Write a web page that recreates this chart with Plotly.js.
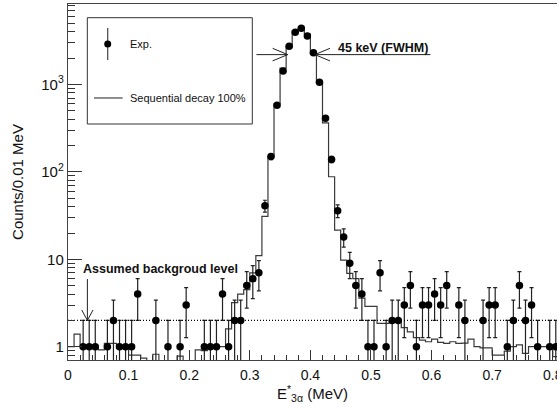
<!DOCTYPE html>
<html><head><meta charset="utf-8">
<script src="https://cdn.plot.ly/plotly-3.0.1.min.js"></script>
<style>html,body{margin:0;padding:0;background:#fff;overflow:hidden}</style>
</head><body><div id="chart" style="width:557px;height:407px"></div>
<script>
// Experimental counts per 0.01 MeV bin (bin centres, MeV)
const dataE = [0.025,0.035,0.045,0.065,0.075,0.085,0.095,0.105,0.115,
  0.145,0.165,0.185,0.195,
  0.225,0.235,0.245,0.255,0.265,0.275,0.285,0.295,0.305,0.315,
  0.325,0.335,0.345,0.355,0.365,0.375,0.385,0.395,0.405,0.415,0.425,0.435,0.445,0.455,0.465,0.475,0.485,
  0.495,0.505,0.515,0.525,0.535,0.545,0.555,0.565,0.575,0.585,0.595,0.605,0.615,0.625,
  0.645,0.655,0.685,0.695,0.705,0.725,0.735,0.745,0.755,0.765,0.775,0.795,0.805];
const dataCounts = [1,1,1,1,2,1,1,1,4,
  2,1,1,3,
  1,1,1,4,1,2,2,5,6,7,
  41,150,578,1430,2735,3955,4395,3590,2312,1060,410,139,36,18,9,5,4,
  1,1,7,1,2,2,3,5,1,3,3,4,3,5,
  3,2,2,3,3,1,2,5,2,3,1,1,1];

// Simulated spectrum "Sequential decay 100%", bins of 0.01 MeV starting at 0
const simBinWidth = 0.01;
const simCounts = [1.0,1.39,1.0,1.0,0.95,0.92,1.09,1.09,0.96,0.96,
  0.80,0.80,0.74,0.6,0.82,0.6,0.6,0.6,0.78,0.6,
  0.6,0.92,0.9,0.96,1.0,1.0,1.6,3.2,4.0,4.5,
  7.0,11,31,150,600,1540,2700,4070,4400,3780,
  2270,1060,364,88,21.6,9.8,6.9,6.0,3.6,2.9,
  2.9,1.85,1.85,1.95,1.95,1.65,1.48,1.27,1.19,1.14,
  1.22,1.12,1.09,1.14,1.09,1.1,1.22,1.0,0.97,0.97,
  0.8,0.8,0.89,1.0,1.05,0.84,1.0,1.0,1.0,1.0,0.77];

// Annotation constants
const bgLevel = 2;
const fwhmLeft = 0.3625, fwhmRight = 0.4075;   // 45 keV apart
const fwhmLineStart = 0.311, fwhmLineEnd = 0.598;
const bgArrowX = 0.032, bgArrowTop = 5.95;

const xTickVals = [0,0.1,0.2,0.3,0.4,0.5,0.6,0.7,0.8];
const xTickText = ['0','0.1','0.2','0.3','0.4','0.5','0.6','0.7','0.8'];
const yTickVals = [1,10,100,1000];
const yTickText = ['1','10','10<sup>2</sup>','10<sup>3</sup>'];

const FONT = 'Liberation Sans, Arial, Helvetica, sans-serif';

const simX = [], simY = [];
for (let i = 0; i <= simCounts.length; i++) {
  simX.push(+(i*simBinWidth).toFixed(3));
  simY.push(simCounts[Math.min(i, simCounts.length-1)]);
}
const errs = dataCounts.map(n => Math.sqrt(n));

const yMinor = [];
[0.8,0.9].forEach(v=>yMinor.push(v));
[1,10,100,1000].forEach(d=>{ for(let k=2;k<=9;k++){ const v=k*d; if(v<8340) yMinor.push(v);} });

const halfMax = Math.max(...dataCounts)/2;
const headDx = 0.0248, headF = 1.18;
const bgHeadDx = 0.0093, bgHeadF = 1.315;

const traces = [
  {x: simX, y: simY, type:'scatter', mode:'lines', line:{shape:'hv', color:'#3a3a3a', width:1.2}, hoverinfo:'skip', showlegend:false},
  {x: dataE, y: dataCounts, type:'scatter', mode:'markers',
   marker:{color:'#000', size:7.5, symbol:'circle'},
   error_y:{type:'data', array: errs, visible:true, color:'#222', thickness:1.2, width:2},
   showlegend:false},
  // background level dotted line
  {x:[0, 0.807], y:[bgLevel,bgLevel], mode:'lines', line:{color:'#000', width:1.2, dash:'1px,2px'}, hoverinfo:'skip', showlegend:false},
  // background arrow
  {x:[bgArrowX,bgArrowX], y:[bgArrowTop,bgLevel], mode:'lines', line:{color:'#222', width:1}, hoverinfo:'skip', showlegend:false},
  {x:[bgArrowX-bgHeadDx,bgArrowX,bgArrowX+bgHeadDx], y:[bgLevel*bgHeadF,bgLevel,bgLevel*bgHeadF], mode:'lines', line:{color:'#222', width:1}, hoverinfo:'skip', showlegend:false},
  // FWHM lines and heads
  {x:[fwhmLineStart,fwhmLeft], y:[halfMax,halfMax], mode:'lines', line:{color:'#222', width:1}, hoverinfo:'skip', showlegend:false},
  {x:[fwhmLeft-headDx,fwhmLeft,fwhmLeft-headDx], y:[halfMax*headF,halfMax,halfMax/headF], mode:'lines', line:{color:'#222', width:1}, hoverinfo:'skip', showlegend:false},
  {x:[fwhmRight,fwhmLineEnd], y:[halfMax,halfMax], mode:'lines', line:{color:'#222', width:1}, hoverinfo:'skip', showlegend:false},
  {x:[fwhmRight+headDx,fwhmRight,fwhmRight+headDx], y:[halfMax*headF,halfMax,halfMax/headF], mode:'lines', line:{color:'#222', width:1}, hoverinfo:'skip', showlegend:false},
  // legend samples on overlay axes
  {x:[0.0812], y:[0.8876], xaxis:'x2', yaxis:'y2', mode:'markers', marker:{color:'#000', size:7},
   error_y:{type:'data', array:[0.045], visible:true, color:'#444', thickness:1.2, width:0}, hoverinfo:'skip', showlegend:false},
  {x:[0.0532,0.1118], y:[0.736,0.736], xaxis:'x2', yaxis:'y2', mode:'lines', line:{color:'#444', width:1.2}, hoverinfo:'skip', showlegend:false}
];

const layout = {
  width:557, height:407,
  margin:{l:68, r:0, t:4, b:47},
  paper_bgcolor:'#fff', plot_bgcolor:'#fff',
  font:{family:FONT, color:'#111'},
  showlegend:false,
  xaxis:{range:[0,0.807], tickvals:xTickVals, ticktext:xTickText, ticks:'inside', ticklen:10, tickwidth:1, tickcolor:'#333',
    minor:{dtick:0.02, tick0:0, ticks:'inside', ticklen:5, tickcolor:'#333', tickwidth:1, showgrid:false},
    showline:true, linecolor:'#444', linewidth:1.2, mirror:true, showgrid:false, zeroline:false,
    tickfont:{size:14, family:FONT, color:'#111'}, ticklabelstandoff:2, ticklabeloverflow:'allow',
    title:{text:'E<sup>*</sup><sub>3α</sub> (MeV)', font:{size:15, family:FONT, color:'#111'}, standoff:4}},
  yaxis:{type:'log', range:[-0.152,3.921], tickvals:yTickVals, ticktext:yTickText, ticks:'inside', ticklen:14, tickwidth:1, tickcolor:'#333',
    minor:{tickmode:'array', tickvals:yMinor, ticks:'inside', ticklen:7, tickcolor:'#333', tickwidth:1, showgrid:false},
    showline:true, linecolor:'#444', linewidth:1.2, showgrid:false, zeroline:false,
    tickfont:{size:15, family:FONT, color:'#111'},
    title:{text:'Counts/0.01 MeV', font:{size:15, family:FONT, color:'#111'}, standoff:14}},
  xaxis2:{overlaying:'x', range:[0,1], visible:false, anchor:'y2'},
  yaxis2:{overlaying:'y', range:[0,1], visible:false, anchor:'x2'},
  shapes:[
    {type:'rect', xref:'paper', yref:'paper', x0:0.0395, x1:0.3769, y0:0.6629, y1:0.9615, line:{color:'#333', width:1}, fillcolor:'rgba(0,0,0,0)'}
  ],
  annotations:[
    {xref:'paper', yref:'paper', x:0.1233, y:0.8876, xanchor:'left', yanchor:'middle', text:'Exp.', showarrow:false, font:{size:11, family:FONT, color:'#111'}},
    {xref:'paper', yref:'paper', x:0.1233, y:0.736, xanchor:'left', yanchor:'middle', text:'Sequential decay 100%', showarrow:false, font:{size:11, family:FONT, color:'#111'}},
    {xref:'paper', yref:'paper', x:0.7403, y:0.8778, xanchor:'right', yanchor:'middle', text:'<b>45 keV (FWHM)</b>', showarrow:false, font:{size:12.5, family:FONT, color:'#111'}},
    {xref:'paper', yref:'paper', x:0.026, y:0.257, xanchor:'left', yanchor:'middle', text:'<b>Assumed backgroud level</b>', showarrow:false, font:{size:12.5, family:FONT, color:'#111'}}
  ]
};

Plotly.newPlot('chart', traces, layout, {staticPlot:true, displayModeBar:false});
</script>
</body></html>
